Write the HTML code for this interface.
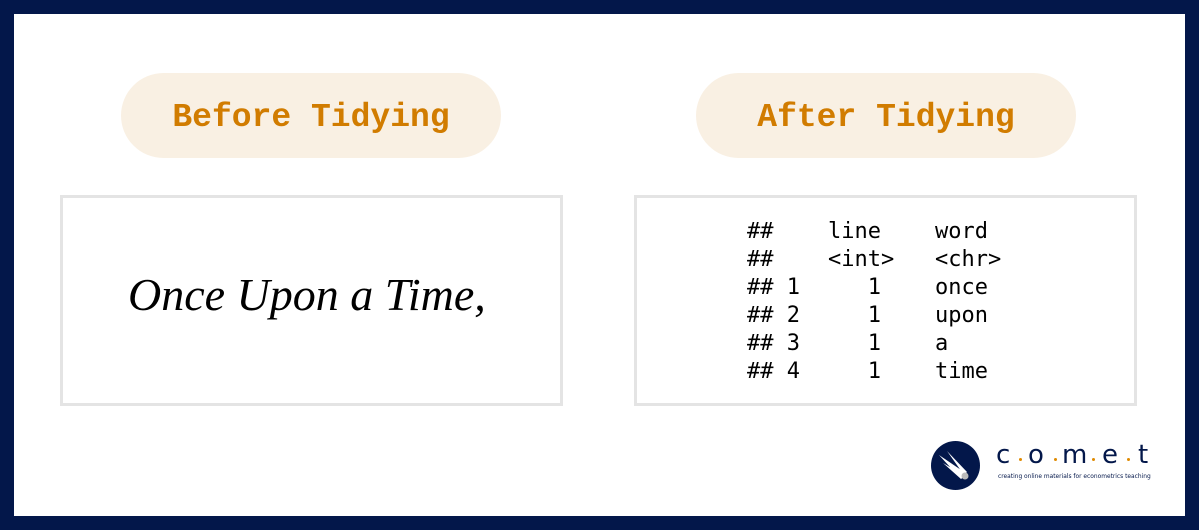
<!DOCTYPE html>
<html><head><meta charset="utf-8"><style>
body{margin:0;width:1199px;height:530px;background:#03174a;position:relative;overflow:hidden}
.w{position:absolute;left:14px;top:14px;width:1171px;height:502px;background:#fff}
.pill{position:absolute;top:73px;width:380px;height:85px;border-radius:43px;background:#f9f0e3;color:#d17c00;font:bold 33px "Liberation Mono",monospace;text-align:center;line-height:89px}
.box{position:absolute;top:195px;width:497px;height:205px;border:3px solid #e4e4e4;background:#fff}
.m{position:absolute;font:22px "DejaVu Sans Mono","Liberation Mono",monospace;color:#000;line-height:28px;white-space:pre}
.d{position:absolute;top:458px;width:3px;height:3px;border-radius:2px;background:#e08a00}
.c{position:absolute;top:442px;font:26px 'DejaVu Sans',sans-serif;color:#03174a;line-height:26px}
</style></head><body>
<div class="w"></div>
<div class="pill" style="left:121px">Before Tidying</div>
<div class="pill" style="left:696px">After Tidying</div>
<div class="box" style="left:60px"></div>
<div class="box" style="left:634px"></div>
<div style="position:absolute;left:128px;top:268px;width:370px;font:italic 46px 'Liberation Serif',serif;color:#000">Once Upon a Time,</div>
<div class="m" style="left:747px;top:218px">##
##
## 1
## 2
## 3
## 4</div>
<div class="m" style="left:828px;top:218px">line
&lt;int&gt;
   1
   1
   1
   1</div>
<div class="m" style="left:935px;top:218px">word
&lt;chr&gt;
once
upon
a
time</div>
<svg style="position:absolute;left:931px;top:441px" width="50" height="50"><circle cx="24.5" cy="24.5" r="24.5" fill="#03174a"/><path d="M8 14 L36 33 L30 38 Z M12 22 L34 35 L30 38Z M16 10 L36 31 L33 34Z" fill="#fff"/><circle cx="34" cy="35" r="3.5" fill="#bbb"/></svg>
<div class="c" style="left:996px">c</div>
<div class="d" style="left:1019px"></div>
<div class="c" style="left:1028px">o</div>
<div class="d" style="left:1054px"></div>
<div class="c" style="left:1062px">m</div>
<div class="d" style="left:1092px"></div>
<div class="c" style="left:1102px">e</div>
<div class="d" style="left:1127px"></div>
<div class="c" style="left:1138px">t</div>
<div style="position:absolute;left:998px;top:474px;font:5.9px 'DejaVu Sans',sans-serif;color:#03174a;white-space:nowrap">creating online materials for econometrics teaching</div>
</body></html>
